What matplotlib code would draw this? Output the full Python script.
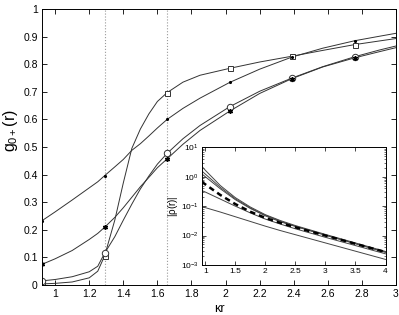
import numpy as np
import matplotlib
matplotlib.use("Agg")
import matplotlib.pyplot as plt

plt.rcParams['font.family'] = ['Liberation Sans', 'DejaVu Sans']
plt.rcParams['mathtext.fontset'] = 'custom'
plt.rcParams['mathtext.rm'] = 'Liberation Sans'
plt.rcParams['mathtext.it'] = 'Liberation Sans'

# ---- main panel data ----
x_marks = [0.923, 1.29, 1.657, 2.024, 2.39, 2.757]
x_line = [0.923, 1.0, 1.1, 1.2, 1.25, 1.29, 1.35, 1.4, 1.45, 1.5, 1.55, 1.6,
          1.657, 1.75, 1.85, 2.024, 2.2, 2.39, 2.57, 2.757, 2.9, 3.0]

g_square = [0.004, 0.006, 0.011, 0.026, 0.050, 0.105, 0.235, 0.370, 0.495, 0.565,
            0.620, 0.665, 0.697, 0.735, 0.760, 0.785, 0.808, 0.829, 0.850, 0.871,
            0.884, 0.893]
g_circle = [0.015, 0.020, 0.030, 0.048, 0.068, 0.115, 0.175, 0.235, 0.293, 0.348,
            0.395, 0.438, 0.477, 0.530, 0.578, 0.646, 0.702, 0.750, 0.791, 0.827,
            0.851, 0.866]
g_star = [0.075, 0.095, 0.125, 0.165, 0.187, 0.209, 0.245, 0.280, 0.318, 0.356,
          0.390, 0.425, 0.457, 0.510, 0.560, 0.630, 0.694, 0.748, 0.790, 0.823,
          0.845, 0.860]
g_dot = [0.233, 0.265, 0.308, 0.352, 0.374, 0.396, 0.428, 0.455, 0.488, 0.512,
         0.540, 0.569, 0.600, 0.640, 0.677, 0.734, 0.782, 0.826, 0.858, 0.885,
         0.901, 0.912]

square_marks = [0.004, 0.105, 0.697, 0.785, 0.829, 0.871]
circle_marks = [0.015, 0.115, 0.477, 0.646, 0.750, 0.827]
star_marks = [0.075, 0.209, 0.457, 0.630, 0.748, 0.823]
dot_marks = [0.233, 0.396, 0.600, 0.734, 0.826, 0.885]

vlines_x = [1.29, 1.657]

x_ticks = [1, 1.2, 1.4, 1.6, 1.8, 2, 2.2, 2.4, 2.6, 2.8, 3]
x_ticklabels = ['1', '1.2', '1.4', '1.6', '1.8', '2', '2.2', '2.4', '2.6', '2.8', '3']
y_ticks = [0, 0.1, 0.2, 0.3, 0.4, 0.5, 0.6, 0.7, 0.8, 0.9, 1]
y_ticklabels = ['0', '0.1', '0.2', '0.3', '0.4', '0.5', '0.6', '0.7', '0.8', '0.9', '1']

# ---- inset data (log10 of |rho|) ----
x_in = [0.94, 1.0, 1.25, 1.5, 1.75, 2.0, 2.25, 2.5, 3.0, 3.5, 4.0]
log_rho_1 = [0.36, 0.22, -0.30, -0.71, -1.03, -1.29, -1.49, -1.66, -1.96, -2.25, -2.54]
log_rho_2 = [0.20, 0.09, -0.36, -0.75, -1.06, -1.31, -1.51, -1.68, -1.98, -2.27, -2.56]
log_rho_3 = [0.10, 0.00, -0.41, -0.78, -1.08, -1.33, -1.53, -1.69, -1.99, -2.28, -2.57]
log_rho_dash = [-0.17, -0.26, -0.62, -0.93, -1.19, -1.40, -1.57, -1.72, -2.00, -2.28, -2.56]
log_rho_4 = [-0.47, -0.52, -0.76, -1.00, -1.23, -1.44, -1.61, -1.77, -2.06, -2.34, -2.62]
log_rho_5 = [-1.02, -1.05, -1.20, -1.36, -1.52, -1.68, -1.83, -1.97, -2.25, -2.53, -2.81]

in_x_ticks = [1, 1.5, 2, 2.5, 3, 3.5, 4]
in_x_ticklabels = ['1', '1.5', '2', '2.5', '3', '3.5', '4']
in_y_ticks = [1e-3, 1e-2, 1e-1, 1e0, 1e1]

fig = plt.figure(figsize=(3.99, 3.15), dpi=100)
ax = fig.add_axes([0.1053, 0.0952, 0.8872, 0.8762])

lc = '#333333'
lw = 0.7
for xv in vlines_x:
    ax.axvline(xv, color='#999999', ls=':', lw=0.8, zorder=1)

ax.plot(x_line, g_square, color=lc, lw=lw)
ax.plot(x_line, g_circle, color=lc, lw=lw)
ax.plot(x_line, g_star, color=lc, lw=lw)
ax.plot(x_line, g_dot, color=lc, lw=lw)

ax.plot(x_marks, square_marks, ls='none', marker='s', ms=3.6, mfc='white', mec=lc, mew=0.7)
ax.plot(x_marks, circle_marks, ls='none', marker='o', ms=4.6, mfc='white', mec=lc, mew=0.7)
ax.plot(x_marks, star_marks, ls='none', marker=(6, 2, 0), ms=3.5, mec='black', mew=1.0)
ax.plot(x_marks, dot_marks, ls='none', marker='.', ms=2.5, color='black')

ax.set_xlim(0.923, 3.0)
ax.set_ylim(0, 1)
ax.set_xticks(x_ticks)
ax.set_xticklabels(x_ticklabels)
ax.set_yticks(y_ticks)
ax.set_yticklabels(y_ticklabels)
ax.tick_params(direction='in', length=3.5, width=0.6, top=True, right=True,
               labelsize=7.5, pad=3)
for s in ax.spines.values():
    s.set_linewidth(0.7)
ax.set_xlabel('κr', fontsize=9, labelpad=3)
ax.set_ylabel(r'$g_{0+}(r)$', fontsize=11.5, labelpad=4)
ax.yaxis.set_label_coords(-0.062, 0.56)

# ---- inset ----
axi = fig.add_axes([0.5055, 0.1587, 0.4607, 0.3737])
axi.set_facecolor('white')
axi.plot(x_in, 10 ** np.array(log_rho_1), color='#444444', lw=0.7)
axi.plot(x_in, 10 ** np.array(log_rho_2), color='#444444', lw=0.7)
axi.plot(x_in, 10 ** np.array(log_rho_3), color='#444444', lw=0.7)
axi.plot(x_in, 10 ** np.array(log_rho_4), color='#444444', lw=0.7)
axi.plot(x_in, 10 ** np.array(log_rho_5), color='#444444', lw=0.7)
axi.plot(x_in, 10 ** np.array(log_rho_dash), color='black', lw=1.8, ls=(0, (2.2, 1.6)))
axi.set_yscale('log')
axi.set_xlim(0.94, 4.0)
axi.set_ylim(1e-3, 1e1)
axi.set_xticks(in_x_ticks)
axi.set_xticklabels(in_x_ticklabels)
axi.set_yticks(in_y_ticks)
axi.tick_params(which='major', direction='in', length=3, width=0.5, top=True, right=True,
                labelsize=6, pad=2)
axi.tick_params(which='minor', direction='in', length=1.5, width=0.4, top=False, right=True)
axi.xaxis.set_minor_locator(matplotlib.ticker.NullLocator())
for s in axi.spines.values():
    s.set_linewidth(0.7)
axi.set_ylabel(r'$|\rho(r)|$', fontsize=7, labelpad=1)

fig.savefig('out.png', dpi=100)
